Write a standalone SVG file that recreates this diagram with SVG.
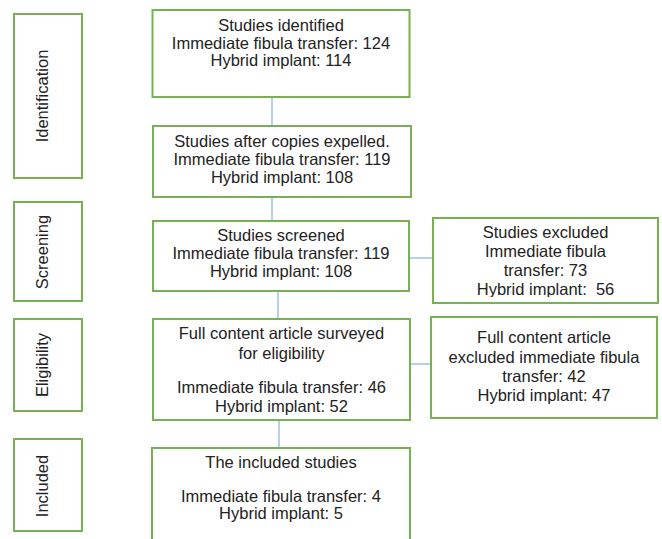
<svg xmlns="http://www.w3.org/2000/svg" width="662" height="539" viewBox="0 0 662 539">
<style>
.box{fill:#ffffff;stroke:#77b153;stroke-width:2}
.con{stroke:#9cc2e5;stroke-width:1.5;fill:none}
.t{font-family:"Liberation Sans",Arial,sans-serif;font-size:16.5px;fill:#222222;text-anchor:middle}
.v{font-family:"Liberation Sans",Arial,sans-serif;font-size:16.5px;fill:#222222;text-anchor:middle}
</style>
<defs>
<clipPath id="clipEx1"><rect x="433" y="218" width="225" height="79"/></clipPath>
</defs>
<rect width="662" height="539" fill="#ffffff"/>
<g id="connectors">
<line class="con" x1="272" y1="97" x2="272" y2="126"/>
<line class="con" x1="272" y1="197" x2="272" y2="221"/>
<line class="con" x1="278" y1="291" x2="278" y2="319"/>
<line class="con" x1="409" y1="258" x2="433" y2="258"/>
<line class="con" x1="410" y1="364" x2="431" y2="364"/>
<line class="con" x1="279" y1="420" x2="279" y2="448"/>
</g>
<g id="stage-identification">
<rect class="box" x="14" y="14" width="68" height="164"/>
<text class="v" transform="translate(47.5,96) rotate(-90)">Identification</text>
</g>
<g id="stage-screening">
<rect class="box" x="14" y="202" width="68" height="99"/>
<text class="v" transform="translate(47.5,252) rotate(-90)">Screening</text>
</g>
<g id="stage-eligibility">
<rect class="box" x="14" y="319" width="68" height="92"/>
<text class="v" transform="translate(47.5,365) rotate(-90)">Eligibility</text>
</g>
<g id="stage-included">
<rect class="box" x="14" y="439" width="68" height="92"/>
<text class="v" transform="translate(47.5,486) rotate(-90)">Included</text>
</g>
<g id="identified">
<rect class="box" x="152.5" y="10" width="257" height="87"/>
<text class="t" x="281" y="31">Studies identified</text>
<text class="t" x="281" y="48.5">Immediate fibula transfer: 124</text>
<text class="t" x="281" y="66">Hybrid implant: 114</text>
</g>
<g id="after-copies">
<rect class="box" x="153" y="126" width="258" height="71"/>
<text class="t" x="282" y="147">Studies after copies expelled.</text>
<text class="t" x="282" y="165">Immediate fibula transfer: 119</text>
<text class="t" x="282" y="183">Hybrid implant: 108</text>
</g>
<g id="screened">
<rect class="box" x="153" y="221" width="256" height="70"/>
<text class="t" x="281" y="241">Studies screened</text>
<text class="t" x="281" y="259">Immediate fibula transfer: 119</text>
<text class="t" x="281" y="277">Hybrid implant: 108</text>
</g>
<g id="excluded-1">
<rect class="box" x="433" y="218" width="225" height="85"/>
<g clip-path="url(#clipEx1)">
<text class="t" x="545.5" y="238">Studies excluded</text>
<text class="t" x="545.5" y="257">Immediate fibula</text>
<text class="t" x="545.5" y="276">transfer: 73</text>
<text class="t" x="545.5" y="295" xml:space="preserve">Hybrid implant:  56</text>
</g>
</g>
<g id="full-content">
<rect class="box" x="153" y="319" width="257" height="101"/>
<text class="t" x="281.5" y="339">Full content article surveyed</text>
<text class="t" x="281.5" y="359">for eligibility</text>
<text class="t" x="281.5" y="393">Immediate fibula transfer: 46</text>
<text class="t" x="281.5" y="412">Hybrid implant: 52</text>
</g>
<g id="excluded-2">
<rect class="box" x="431" y="317" width="226" height="101"/>
<text class="t" x="544" y="343">Full content article</text>
<text class="t" x="544" y="363">excluded immediate fibula</text>
<text class="t" x="544" y="382">transfer: 42</text>
<text class="t" x="544" y="401">Hybrid implant: 47</text>
</g>
<g id="included-studies">
<rect class="box" x="152" y="448" width="258" height="100"/>
<text class="t" x="281" y="468">The included studies</text>
<text class="t" x="281" y="502">Immediate fibula transfer: 4</text>
<text class="t" x="281" y="519">Hybrid implant: 5</text>
</g>
</svg>
